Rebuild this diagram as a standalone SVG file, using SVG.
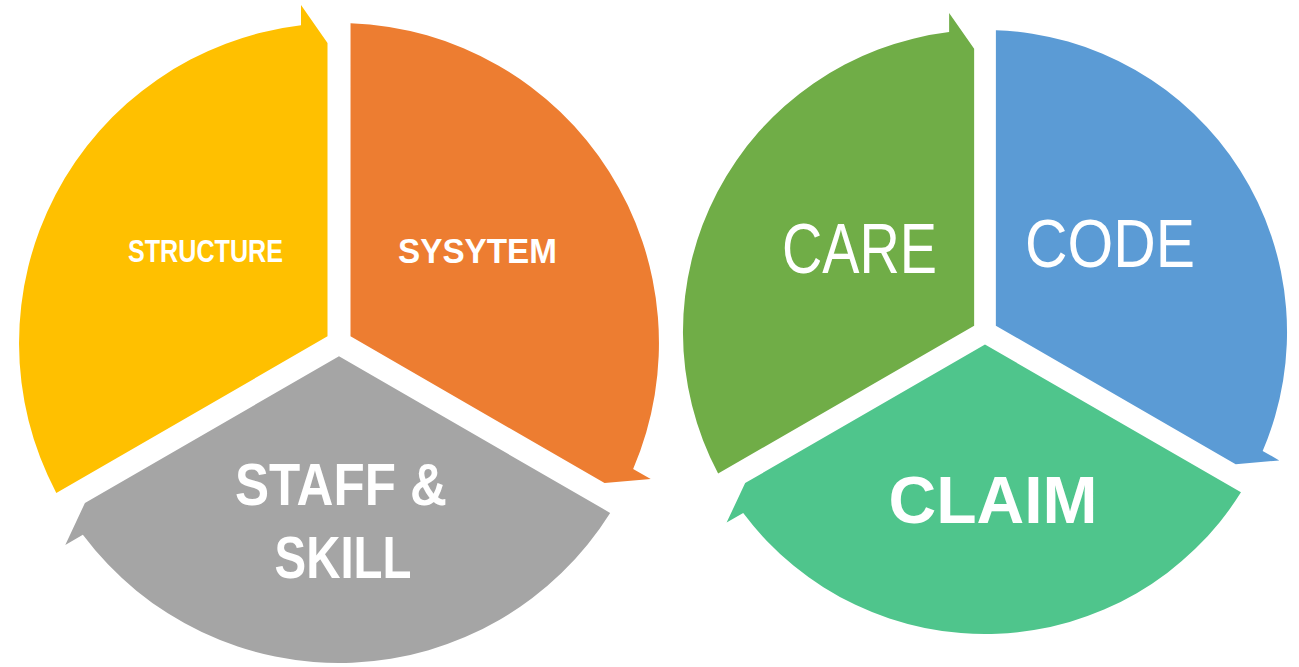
<svg xmlns="http://www.w3.org/2000/svg" width="1299" height="667" viewBox="0 0 1299 667">
<style>
.lbl{fill:#FFFFFF;font-family:"Liberation Sans",Arial,sans-serif;text-anchor:middle}
.b{font-weight:bold}
</style>
<defs>
<path id="seg" d="M -11.5,-6.64 L -282.7,149.9 A 320 320 0 0 1 -38,-317.7 L -38,-338 L -11.5,-300 Z"/>
</defs>
<rect width="1299" height="667" fill="#FFFFFF"/>
<g id="connectors"></g>
<g id="left-cycle" transform="translate(339,343)">
  <g id="structure"><use href="#seg" fill="#FFC000"/></g>
  <g id="sysytem"><use href="#seg" fill="#ED7D31" transform="rotate(120)"/></g>
  <g id="staff-skill"><use href="#seg" fill="#A5A5A5" transform="rotate(240)"/></g>
</g>
<g id="right-cycle" transform="translate(985,332) scale(0.944)">
  <g id="care"><use href="#seg" fill="#70AD47"/></g>
  <g id="code"><use href="#seg" fill="#5B9BD5" transform="rotate(120)"/></g>
  <g id="claim"><use href="#seg" fill="#4FC58C" transform="rotate(240)"/></g>
</g>
<g id="labels">
  <text class="lbl b" x="205.5" y="262" font-size="31" textLength="155" lengthAdjust="spacingAndGlyphs">STRUCTURE</text>
  <text class="lbl b" x="477.5" y="263" font-size="35" textLength="159" lengthAdjust="spacingAndGlyphs">SYSYTEM</text>
  <text class="lbl b" x="341" y="505" font-size="60" textLength="212" lengthAdjust="spacingAndGlyphs">STAFF &amp;</text>
  <text class="lbl b" x="343" y="578" font-size="60" textLength="137" lengthAdjust="spacingAndGlyphs">SKILL</text>
  <text class="lbl" x="859.5" y="273" font-size="70" textLength="155" lengthAdjust="spacingAndGlyphs">CARE</text>
  <text class="lbl" x="1110" y="267" font-size="69" textLength="170" lengthAdjust="spacingAndGlyphs">CODE</text>
  <text class="lbl b" x="993" y="523" font-size="67" textLength="209" lengthAdjust="spacingAndGlyphs">CLAIM</text>
</g>
</svg>
